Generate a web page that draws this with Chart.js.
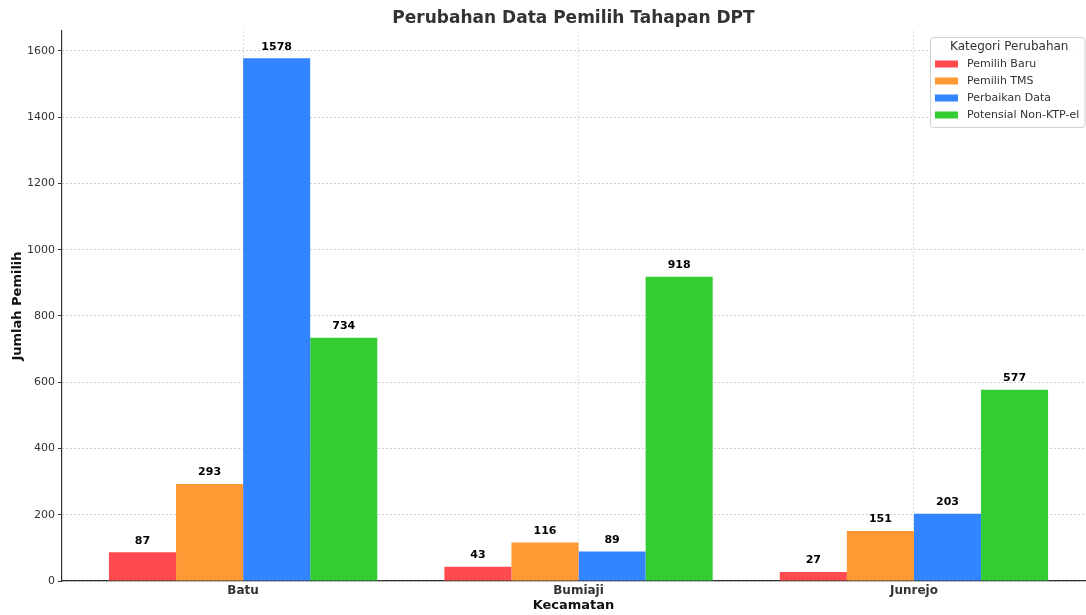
<!DOCTYPE html>
<html>
<head>
<meta charset="utf-8">
<script src="https://cdn.jsdelivr.net/npm/chart.js@4"></script>
<style>
  html, body { margin: 0; padding: 0; background: #fff; }
  #wrap { width: 1086px; height: 615px; position: relative; }
</style>
</head>
<body>
<div id="wrap"><canvas id="dptChart"></canvas></div>
<script>
const kecamatan = ['Batu', 'Bumiaji', 'Junrejo'];
const pemilihBaru = [87, 43, 27];
const pemilihTMS = [293, 116, 151];
const perbaikanData = [1578, 89, 203];
const nonKtpEl = [734, 918, 577];
const seriesNames = ['Pemilih Baru', 'Pemilih TMS', 'Perbaikan Data', 'Potensial Non-KTP-el'];
const seriesColors = ['#ff4b4f', '#ff9933', '#3385ff', '#33cc33'];

const FONT = 'DejaVu Sans';

// title + value labels + legend box, drawn after the bars
const extras = {
    id: 'extras',
    afterDatasetsDraw(chart) {
        const ctx = chart.ctx;
        const area = chart.chartArea;
        ctx.save();

        // value labels
        ctx.font = 'bold 11px "' + FONT + '"';
        ctx.fillStyle = '#000';
        ctx.textAlign = 'center';
        ctx.textBaseline = 'bottom';
        chart.data.datasets.forEach((ds, i) => {
            chart.getDatasetMeta(i).data.forEach((bar, j) => {
                ctx.fillText(ds.data[j], bar.x, bar.y - 6);
            });
        });

        // title
        ctx.font = 'bold 17px "' + FONT + '"';
        ctx.fillStyle = '#333';
        ctx.textBaseline = 'middle';
        ctx.fillText('Perubahan Data Pemilih Tahapan DPT', (area.left + area.right) / 2, 19);

        // legend
        const bx = 930, by = 37, bw = area.right - bx - 0.5, bh = 90;
        ctx.fillStyle = 'rgba(255,255,255,0.9)';
        ctx.strokeStyle = '#d0d0d0';
        ctx.lineWidth = 1;
        ctx.beginPath();
        ctx.roundRect(bx + 0.5, by + 0.5, bw, bh, 3);
        ctx.fill();
        ctx.stroke();

        ctx.fillStyle = '#333';
        ctx.font = '12px "' + FONT + '"';
        ctx.textAlign = 'center';
        ctx.fillText('Kategori Perubahan', bx + bw / 2 + 2, by + 10);

        ctx.font = '11px "' + FONT + '"';
        ctx.textAlign = 'left';
        seriesNames.forEach((name, i) => {
            const y = by + 27 + i * 17;
            ctx.fillStyle = seriesColors[i];
            ctx.fillRect(bx + 5, y - 3.5, 23, 7);
            ctx.fillStyle = '#333';
            ctx.fillText(name, bx + 37, y);
        });

        ctx.restore();
    }
};

const seriesData = [pemilihBaru, pemilihTMS, perbaikanData, nonKtpEl];

new Chart(document.getElementById('dptChart'), {
    type: 'bar',
    data: {
        labels: kecamatan,
        datasets: seriesNames.map((name, i) => ({
            label: name,
            data: seriesData[i],
            backgroundColor: seriesColors[i],
            borderWidth: 0,
            categoryPercentage: 0.8,
            barPercentage: 1.0
        }))
    },
    options: {
        responsive: true,
        maintainAspectRatio: false,
        animation: false,
        layout: { padding: { top: 31, right: 1, left: 0, bottom: 0 } },
        plugins: {
            legend: { display: false },
            title: { display: false },
            tooltip: { enabled: false }
        },
        scales: {
            x: {
                offset: true,
                grid: {
                    display: true,
                    offset: false,
                    color: '#dddddd',
                    drawTicks: false
                },
                border: { display: true, color: '#333', width: 1.2, dash: [2, 2] },
                ticks: {
                    color: '#333',
                    padding: 3,
                    font: { family: FONT, size: 12, weight: 'bold' }
                },
                title: {
                    display: true,
                    text: 'Kecamatan',
                    color: '#111',
                    padding: { top: 0, bottom: 2 },
                    font: { family: FONT, size: 13, weight: 'bold' }
                },
                afterFit(scale) { scale.height = 34; },
                // matplotlib-like side margins around the three groups
                afterUpdate(scale) {
                    scale._startValue = -0.54;
                    scale._valueRange = 3.05;
                }
            },
            y: {
                min: 0,
                max: 1660,
                grid: {
                    color: '#d0d0d0',
                    tickColor: '#333',
                    tickLength: 4,
                    tickBorderDash: []
                },
                border: { display: true, color: '#333', width: 1.2, dash: [2, 2] },
                ticks: {
                    stepSize: 200,
                    color: '#333',
                    padding: 3,
                    font: { family: FONT, size: 11 },
                    callback: value => String(value)
                },
                afterBuildTicks(scale) {
                    scale.ticks = scale.ticks.filter(t => t.value % 200 === 0);
                },
                title: {
                    display: true,
                    text: 'Jumlah Pemilih',
                    color: '#111',
                    padding: { top: 10, bottom: 0 },
                    font: { family: FONT, size: 13, weight: 'bold' }
                },
                afterFit(scale) { scale.width = 62; }
            }
        }
    },
    plugins: [extras]
});
</script>
</body>
</html>
